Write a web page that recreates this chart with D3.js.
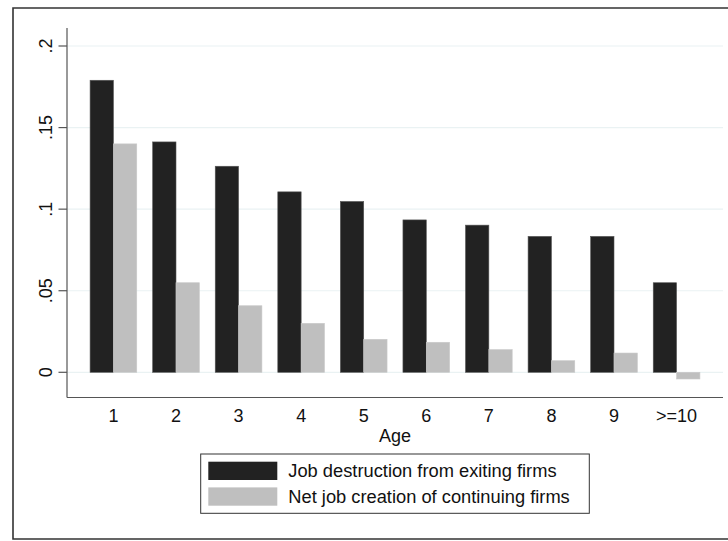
<!DOCTYPE html>
<html>
<head>
<meta charset="utf-8">
<script src="https://cdn.jsdelivr.net/npm/d3@7"></script>
<style>
  html, body { margin: 0; padding: 0; background: #fff; }
  svg { display: block; font-family: "Liberation Sans", Arial, sans-serif; }
</style>
</head>
<body>
<svg id="chart" width="728" height="541"></svg>
<script>
const categories = ["1", "2", "3", "4", "5", "6", "7", "8", "9", ">=10"];
const jobDestruction = [0.179, 0.1412, 0.1263, 0.1106, 0.1047, 0.0934, 0.0902, 0.0833, 0.0833, 0.0549];
const netCreation = [0.140, 0.0549, 0.0408, 0.0300, 0.0202, 0.0184, 0.0139, 0.0071, 0.0118, -0.0041];
const yTicks = [0, 0.05, 0.1, 0.15, 0.2];
const yTickLabels = ["0", ".05", ".1", ".15", ".2"];
const seriesNames = ["Job destruction from exiting firms", "Net job creation of continuing firms"];
const seriesColors = ["#222222", "#bfbfbf"];
const xTitle = "Age";

const svg = d3.select("#chart");

// outer frame (left, top, bottom)
svg.append("path")
  .attr("d", "M728,8 L13,8 L13,539 L728,539")
  .attr("fill", "none").attr("stroke", "#333").attr("stroke-width", 1.6);

const plot = { left: 67, right: 723, top: 28, bottom: 397.5 };

const y = d3.scaleLinear().domain([0, 0.2]).range([372.3, 46]);
const x = d3.scaleBand().domain(categories).range([plot.left, plot.right])
  .paddingInner(0.254).paddingOuter(0.369);
const xs = d3.scaleBand().domain([0, 1]).range([0, x.bandwidth()]);

// gridlines
svg.append("g").selectAll("line").data(yTicks).join("line")
  .attr("x1", plot.left).attr("x2", plot.right)
  .attr("y1", d => y(d)).attr("y2", d => y(d))
  .attr("stroke", "#eaf2f3").attr("stroke-width", 1.2);

// bars
const series = [jobDestruction, netCreation];
const g = svg.append("g");
series.forEach((vals, si) => {
  g.selectAll(null).data(vals).join("rect")
    .attr("x", (d, i) => x(categories[i]) + xs(si))
    .attr("width", xs.bandwidth())
    .attr("y", d => y(Math.max(0, d)))
    .attr("height", d => Math.abs(y(d) - y(0)))
    .attr("fill", seriesColors[si])
    .attr("stroke", si === 0 ? "#555" : "#c8c8c8")
    .attr("stroke-width", 0.6);
});

// y axis
const yAxis = svg.append("g").attr("transform", `translate(${plot.left},0)`);
yAxis.append("line").attr("x1", 0).attr("x2", 0).attr("y1", plot.top).attr("y2", plot.bottom)
  .attr("stroke", "#555").attr("stroke-width", 1.2);
yTicks.forEach((t, i) => {
  yAxis.append("line").attr("x1", -8.5).attr("x2", 0).attr("y1", y(t)).attr("y2", y(t))
    .attr("stroke", "#555").attr("stroke-width", 1.2);
  yAxis.append("text")
    .attr("transform", `translate(-15,${y(t)}) rotate(-90)`)
    .attr("text-anchor", "middle")
    .attr("font-size", 18).attr("fill", "#111")
    .text(yTickLabels[i]);
});

// x axis
const xAxis = svg.append("g").attr("transform", `translate(0,${plot.bottom})`);
xAxis.append("line").attr("x1", plot.left).attr("x2", plot.right).attr("y1", 0).attr("y2", 0)
  .attr("stroke", "#555").attr("stroke-width", 1.2);
xAxis.selectAll("text").data(categories).join("text")
  .attr("x", d => x(d) + x.bandwidth() / 2)
  .attr("y", 24.7)
  .attr("text-anchor", "middle").attr("font-size", 18).attr("fill", "#111")
  .text(d => d);

svg.append("text")
  .attr("x", (plot.left + plot.right) / 2).attr("y", 442)
  .attr("text-anchor", "middle").attr("font-size", 18).attr("fill", "#111")
  .text(xTitle);

// legend
const lg = svg.append("g");
lg.append("rect").attr("x", 200.7).attr("y", 454).attr("width", 388.6).attr("height", 59.3)
  .attr("fill", "#fff").attr("stroke", "#333").attr("stroke-width", 1);
seriesNames.forEach((name, i) => {
  lg.append("rect").attr("x", 208.3).attr("y", 461.7 + i * 25.7)
    .attr("width", 69).attr("height", 18.3)
    .attr("fill", seriesColors[i]);
  lg.append("text").attr("x", 288.3).attr("y", 477.3 + i * 26)
    .attr("font-size", 18.3).attr("fill", "#111").text(name);
});
</script>
</body>
</html>
